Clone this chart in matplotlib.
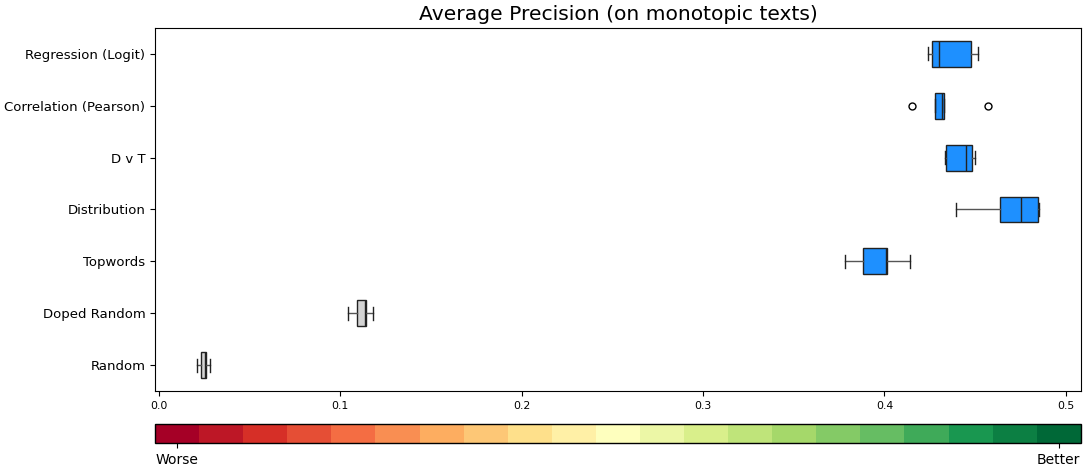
import numpy as np
import matplotlib
matplotlib.use("Agg")
import matplotlib.pyplot as plt
from matplotlib.colors import ListedColormap, BoundaryNorm
from matplotlib.colorbar import ColorbarBase

# methods, bottom to top
methods = ["Random", "Doped Random", "Topwords", "Distribution",
           "D v T", "Correlation (Pearson)", "Regression (Logit)"]
whislo = [0.0211, 0.1045, 0.3785, 0.4395, 0.4334, 0.4277, 0.4240]
q1 = [0.0235, 0.1093, 0.3884, 0.4639, 0.4338, 0.4277, 0.4262]
med = [0.0253, 0.1135, 0.4009, 0.4755, 0.4448, 0.4318, 0.4300]
q3 = [0.0261, 0.1140, 0.4015, 0.4847, 0.4481, 0.4329, 0.4478]
whishi = [0.0283, 0.1181, 0.4141, 0.4850, 0.4498, 0.4329, 0.4514]
fliers = [[], [], [], [], [], [0.4150, 0.4571], []]
baseline = [True, True, False, False, False, False, False]

stats = []
for i, name in enumerate(methods):
    stats.append(dict(label=name, whislo=whislo[i], q1=q1[i], med=med[i],
                      q3=q3[i], whishi=whishi[i], fliers=fliers[i]))

fig = plt.figure(figsize=(10.84, 4.65), dpi=100)
ax = fig.add_axes([0.143, 0.159, 0.854, 0.781])

bp = ax.bxp(stats, vert=False, widths=0.5, patch_artist=True,
            boxprops=dict(edgecolor="#222222", linewidth=1.0),
            medianprops=dict(color="#222222", linewidth=1.0),
            whiskerprops=dict(color="#555555", linewidth=1.0),
            capprops=dict(color="#222222", linewidth=1.0),
            flierprops=dict(marker="o", markerfacecolor="none",
                            markeredgecolor="black", markersize=5))
for box, base in zip(bp["boxes"], baseline):
    box.set_facecolor("lightgray" if base else "dodgerblue")

ax.set_title("Average Precision (on monotopic texts)", fontsize=14.6)
ax.tick_params(axis="y", labelsize=9.5)
ax.tick_params(axis="x", labelsize=7.8)
ax.set_xticks([0.0, 0.1, 0.2, 0.3, 0.4, 0.5])

# discrete colour scale from worse to better
cax = fig.add_axes([0.143, 0.047, 0.854, 0.041])
n = 21
cmap = ListedColormap(plt.get_cmap("RdYlGn")(np.linspace(0, 1, n)))
norm = BoundaryNorm(np.arange(n + 1) - 0.5, n)
cb = ColorbarBase(cax, cmap=cmap, norm=norm, orientation="horizontal",
                  ticks=[0, n - 1])
cb.set_ticklabels(["Worse", "Better"])
cax.minorticks_off()
cax.tick_params(labelsize=10)
cb.outline.set_linewidth(1.0)

fig.savefig("out.png", dpi=100)
